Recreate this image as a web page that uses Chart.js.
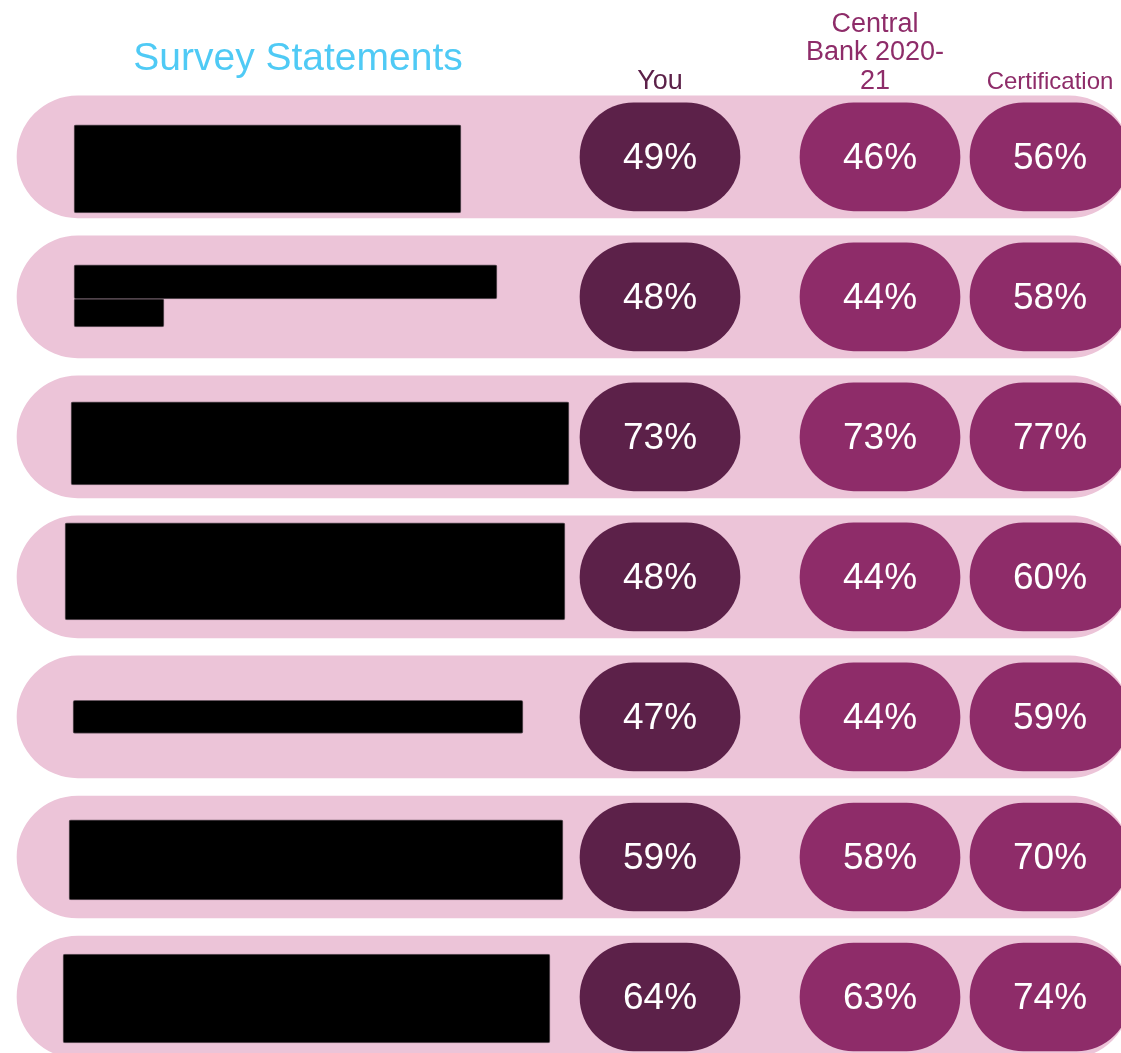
<!DOCTYPE html>
<html>
<head>
<meta charset="utf-8">
<title>Survey Statements</title>
<script src="https://cdn.jsdelivr.net/npm/chart.js@4.4.1/dist/chart.umd.min.js"></script>
<style>
    html, body { margin: 0; padding: 0; background: #ffffff; overflow: hidden; }
    #wrap { position: relative; width: 1121px; height: 1053px; }
</style>
</head>
<body>
<div id="wrap"><canvas id="surveyChart"></canvas></div>
<script>
// Survey rows (the statement text itself is blacked out in the source)
const statements = ['Statement 1', 'Statement 2', 'Statement 3', 'Statement 4', 'Statement 5', 'Statement 6', 'Statement 7'];
const columnHeaders = ['You', ['Central', 'Bank 2020-', '21'], 'Certification'];
const youScores = [49, 48, 73, 48, 47, 59, 64];
const centralBankScores = [46, 44, 73, 44, 44, 58, 63];
const certificationScores = [56, 58, 77, 60, 59, 70, 74];

// Layout: x axis runs in pixel-like units across the page
const BAND = [17, 1130];
const COLUMNS = [[580, 740], [800, 960], [970, 1130]];
const PILL_COLORS = ['#5c2149', '#8e2c69', '#8e2c69'];
const HEADER_COLORS = ['#5c2149', '#8e2c69', '#8e2c69'];

// Black boxes covering the redacted statement text: row, from, to, vertical shift (rows), height (px)
const redactions = [
    [0, 74, 461, 0.086, 88],
    [1, 74, 497, -0.107, 34],
    [1, 74, 164, 0.114, 28],
    [2, 71, 569, 0.046, 83],
    [3, 65, 565, -0.039, 97],
    [4, 73, 523, 0, 33],
    [5, 69, 563, 0.021, 80],
    [6, 63, 550, 0.011, 89]
];

const FONT = '"Liberation Sans", Arial, sans-serif';
const allScores = [youScores, centralBankScores, certificationScores];

const datasets = [];

// redaction boxes on top
redactions.forEach(r => {
    datasets.push({
        data: [{ x: [r[1], r[2]], y: r[0] + 1 + r[3] }],
        backgroundColor: '#000000',
        borderColor: '#6b5a64',
        borderWidth: 1,
        borderRadius: 2,
        borderSkipped: false,
        barThickness: r[4],
        grouped: false
    });
});

// the three score pills
COLUMNS.forEach((col, c) => {
    datasets.push({
        label: Array.isArray(columnHeaders[c]) ? columnHeaders[c].join(' ') : columnHeaders[c],
        data: statements.map((s, i) => ({ x: col, y: i + 1 })),
        scores: allScores[c],
        backgroundColor: PILL_COLORS[c],
        borderRadius: 54,
        borderSkipped: false,
        barThickness: 108,
        grouped: false
    });
});

// pink row bands underneath everything
datasets.push({
    data: statements.map((s, i) => ({ x: BAND, y: i + 1 })),
    backgroundColor: '#ecc4d8',
    borderRadius: 61,
    borderSkipped: false,
    barThickness: 122,
    grouped: false
});

const pillText = {
    id: 'pillText',
    afterDatasetsDraw(chart) {
        const ctx = chart.ctx;
        ctx.save();
        ctx.fillStyle = '#ffffff';
        ctx.font = '37px ' + FONT;
        ctx.textAlign = 'center';
        ctx.textBaseline = 'alphabetic';
        chart.data.datasets.forEach((ds, di) => {
            if (!ds.scores) return;
            const meta = chart.getDatasetMeta(di);
            meta.data.forEach((bar, i) => {
                const p = bar.getCenterPoint();
                ctx.fillText(ds.scores[i] + '%', p.x, p.y + 12);
            });
        });
        ctx.restore();
    }
};

const headers = {
    id: 'headers',
    afterDraw(chart) {
        const ctx = chart.ctx;
        const x = chart.scales.x;
        const top = chart.scales.y.getPixelForValue(1) - 61;
        ctx.save();
        ctx.textAlign = 'center';
        ctx.textBaseline = 'alphabetic';

        ctx.fillStyle = '#4fcaf5';
        ctx.font = '39px ' + FONT;
        ctx.fillText('Survey Statements', x.getPixelForValue(298), top - 26);

        columnHeaders.forEach((h, c) => {
            const cx = x.getPixelForValue((COLUMNS[c][0] + COLUMNS[c][1]) / 2);
            ctx.fillStyle = HEADER_COLORS[c];
            if (Array.isArray(h)) {
                ctx.font = '27px ' + FONT;
                h.forEach((line, k) => {
                    ctx.fillText(line, cx - 5, top - 7 - (h.length - 1 - k) * 28.5);
                });
            } else {
                ctx.font = (c === 2 ? '24px ' : '27px ') + FONT;
                ctx.fillText(h, cx, top - 7);
            }
        });
        ctx.restore();
    }
};

new Chart(document.getElementById('surveyChart'), {
    type: 'bar',
    data: { datasets: datasets },
    options: {
        indexAxis: 'y',
        responsive: true,
        maintainAspectRatio: false,
        animation: false,
        events: [],
        layout: { padding: 0 },
        plugins: {
            legend: { display: false },
            tooltip: { enabled: false }
        },
        scales: {
            x: { type: 'linear', min: 0, max: 1121, offset: false, display: false },
            y: { type: 'linear', min: -0.12, max: 7.4, reverse: true, offset: false, display: false }
        }
    },
    plugins: [pillText, headers]
});
</script>
</body>
</html>
